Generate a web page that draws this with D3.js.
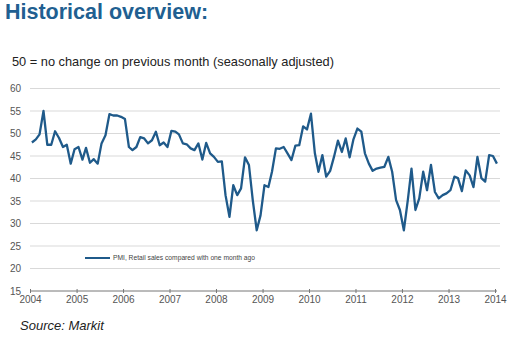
<!DOCTYPE html>
<html lang="en">
	<head>
		<meta charset="utf-8">
		<script type="text/javascript" src="https://d3js.org/d3.v7.min.js"></script>
		<style type="text/css">
			body { margin: 0; background: #fff; }
			text { font-family: "Liberation Sans", Arial, sans-serif; }
		</style>
	</head>
	<body>
		<script type="text/javascript">

			// Width and height of the picture.
			var w = 509;
			var h = 340;

			// Monthly PMI values, Jan 2004 onwards.
			var pmi = [
				48, 48.7, 49.8, 55, 47.5, 47.5, 50.5, 49, 47, 47.5, 43.3, 46.5,
				47, 44.2, 46.8, 43.5, 44.3, 43.3, 47.8, 49.6, 54.3, 54, 54, 53.7,
				53.2, 47, 46.3, 47, 49.2, 48.9, 47.8, 48.5, 50.4, 47.4, 48, 47,
				50.6, 50.4, 49.8, 47.8, 47.6, 46.7, 46.3, 47.8, 44.2, 47.9, 45.6, 44.8,
				43.7, 43.8, 36.3, 31.5, 38.5, 36.3, 37.8, 44.7, 43, 35.2, 28.5, 31.8,
				38.5, 38.1, 41.5, 46.7, 46.6, 47, 45.6, 44.1, 47.3, 47.4, 51.6, 50.9,
				54.4, 45.6, 41.5, 45.2, 40.4, 41.7, 44.8, 48.4, 45.9, 48.9, 44.7, 48.7,
				51.1, 50.4, 45.6, 43.3, 41.7, 42.2, 42.4, 42.6, 44.8, 41.5, 35.2, 33,
				28.5, 35.2, 42.2, 33, 35.6, 41.5, 37.4, 43, 37, 35.6, 36.3, 36.7,
				37.4, 40.4, 40.1, 37.2, 41.8, 40.7, 38.1, 44.8, 40.1, 39.3, 45.2, 45,
				43.3
			];

			// Tick labels.
			var years = [2004, 2005, 2006, 2007, 2008, 2009, 2010, 2011, 2012, 2013, 2014];
			var yTicks = [15, 20, 25, 30, 35, 40, 45, 50, 55, 60];

			var seriesName = "PMI, Retail sales compared with one month ago";

			// Join months and values.
			var data = pmi.map(function(v, i) {
				return { date: new Date(2004, i, 16), value: v };
			});

			var svg = d3.select("body")
						.append("svg")
						.attr("width", w)
						.attr("height", h);

			// Scales.
			var x = d3.scaleTime()
				.domain([new Date(2004, 0, 1), new Date(2014, 0, 1)])
				.range([30, 495]);

			var y = d3.scaleLinear()
				.domain([15, 60])
				.range([291, 88.5]);

			// Title and subtitle.
			svg.append("text")
				.attr("x", 5)
				.attr("y", 19)
				.attr("fill", "#215f91")
				.attr("font-size", "21.5px")
				.attr("font-weight", "bold")
				.text("Historical overview:");

			svg.append("text")
				.attr("x", 12)
				.attr("y", 66)
				.attr("fill", "#222")
				.attr("font-size", "12.8px")
				.text("50 = no change on previous month (seasonally adjusted)");

			// Horizontal gridlines.
			svg.append("g")
				.selectAll("line")
				.data(yTicks.slice(1))
				.enter().append("line")
				.attr("x1", 30)
				.attr("x2", 500)
				.attr("y1", function(d) { return y(d); })
				.attr("y2", function(d) { return y(d); })
				.attr("stroke", "#d9d9d9")
				.attr("stroke-width", 1);

			// Y axis labels (no axis line).
			var yAxis = svg.append("g")
				.attr("transform", "translate(30,0)")
				.call(d3.axisLeft(y).tickValues(yTicks).tickSize(0).tickPadding(9));
			yAxis.select(".domain").remove();
			yAxis.selectAll("text")
				.attr("fill", "#555")
				.attr("font-size", "10px")
				.attr("font-family", "Liberation Sans, Arial, sans-serif");

			// X axis with small ticks crossing the line.
			var xAxis = svg.append("g")
				.attr("transform", "translate(0,291)")
				.call(d3.axisBottom(x)
					.tickValues(years.map(function(d) { return new Date(d, 0, 1); }))
					.tickFormat(d3.timeFormat("%Y"))
					.tickSize(2)
					.tickPadding(3));
			xAxis.select(".domain")
				.attr("d", "M30,0H497")
				.attr("stroke", "#777");
			xAxis.selectAll(".tick line")
				.attr("y1", -2)
				.attr("y2", 2)
				.attr("stroke", "#777");
			xAxis.selectAll("text")
				.attr("fill", "#555")
				.attr("font-size", "10px")
				.attr("font-family", "Liberation Sans, Arial, sans-serif");

			// The series line.
			var line = d3.line()
				.x(function(d) { return x(d.date); })
				.y(function(d) { return y(d.value); });

			svg.append("path")
				.datum(data)
				.attr("d", line)
				.attr("fill", "none")
				.attr("stroke", "#1f5a8a")
				.attr("stroke-width", 2.3)
				.attr("stroke-linejoin", "round");

			// Legend.
			var legend = svg.append("g")
				.attr("transform", "translate(85,258)");
			legend.append("line")
				.attr("x1", 0)
				.attr("x2", 25)
				.attr("stroke", "#1f5a8a")
				.attr("stroke-width", 2);
			legend.append("text")
				.attr("x", 28)
				.attr("y", 2.2)
				.attr("fill", "#444")
				.attr("font-size", "6.7px")
				.text(seriesName);

			// Source note.
			svg.append("text")
				.attr("x", 20)
				.attr("y", 330)
				.attr("fill", "#222")
				.attr("font-size", "13px")
				.attr("font-style", "italic")
				.text("Source: Markit");

		</script>
	</body>
</html>
